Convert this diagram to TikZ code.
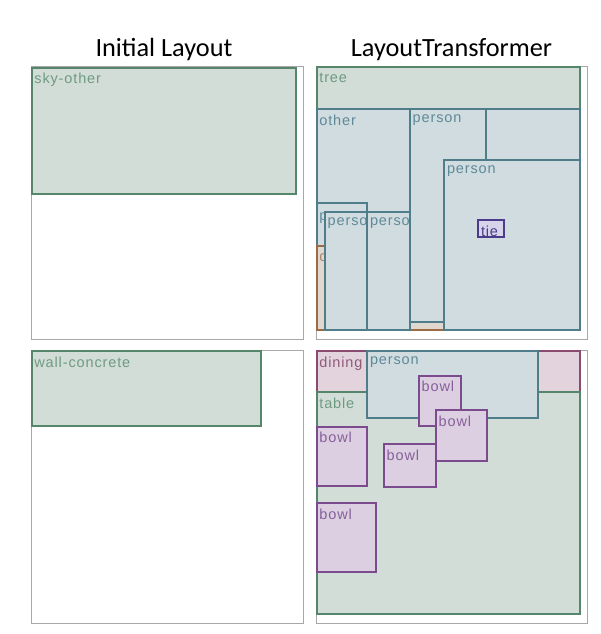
\documentclass[tikz,border=0pt]{standalone}
\usepackage{fontspec}
\setmainfont{Liberation Sans}
\newfontfamily\lblfont[LetterSpace=6]{Liberation Sans}
\newfontfamily\titlefont{Carlito}
\definecolor{gfill}{HTML}{D2DDD7}
\definecolor{gline}{HTML}{55866B}
\definecolor{gtext}{HTML}{6F9A82}
\definecolor{pfill}{HTML}{D0DCE0}
\definecolor{pline}{HTML}{4F7D8A}
\definecolor{ptext}{HTML}{5F8A98}
\definecolor{bfill}{HTML}{E0D7CF}
\definecolor{bline}{HTML}{9B6B45}
\definecolor{btext}{HTML}{A8846A}
\definecolor{ufill}{HTML}{DCCFE2}
\definecolor{uline}{HTML}{7B4B8D}
\definecolor{utext}{HTML}{86609A}
\definecolor{dfill}{HTML}{E2D3DD}
\definecolor{dline}{HTML}{8B4B71}
\definecolor{dtext}{HTML}{8F5A7A}
\definecolor{tfill}{HTML}{D6D3EA}
\definecolor{tline}{HTML}{4B3B8B}
\definecolor{ttext}{HTML}{4B3B8B}
\definecolor{frame}{HTML}{A8A8A8}
\tikzset{
  panelframe/.style={draw=frame, line width=1pt},
  grn/.style={fill=gfill, draw=gline, line width=1.8pt},
  grn lbl/.style={text=gtext},
  per/.style={fill=pfill, draw=pline, line width=1.8pt},
  per lbl/.style={text=ptext},
  brn/.style={fill=bfill, draw=bline, line width=1.8pt},
  brn lbl/.style={text=btext},
  bwl/.style={fill=ufill, draw=uline, line width=1.8pt},
  bwl lbl/.style={text=utext},
  din/.style={fill=dfill, draw=dline, line width=1.8pt},
  din lbl/.style={text=dtext},
  tie/.style={fill=tfill, draw=tline, line width=1.8pt},
  tie lbl/.style={text=ttext},
  lbl/.style={anchor=north west, inner xsep=2.5pt, inner ysep=5.5pt,
    font=\lblfont\fontsize{14.5}{15}\selectfont},
  ttl/.style={font=\titlefont\fontsize{26.3}{28}\selectfont, anchor=base}
}
\newcommand\lbox[7]{%
  \draw[#2] (#3,#4) rectangle (#5,#6);
  \begin{scope}
    \clip (#3,#4) rectangle (#5,#6);
    \node[lbl,#2 lbl] (#1) at (#3,#4) {#7};
  \end{scope}}
\begin{document}
\begin{tikzpicture}[x=1pt,y=-1pt]
\useasboundingbox (0,0) rectangle (600,634);
\fill[white] (0,0) rectangle (600,634);
% titles
\node[ttl] (t1) at (164,56.7) {Initial Layout};
\node[ttl] (t2) at (451.5,56.7) {LayoutTransformer};
% top-left panel
\draw[panelframe] (31,66.5) rectangle (303,339);
\lbox{sky}{grn}{31.7}{67.7}{296}{194}{sky-other}
% bottom-left panel
\draw[panelframe] (31,350.5) rectangle (303,623);
\lbox{wall}{grn}{31.7}{351}{260.7}{426}{wall-concrete}
% top-right panel
\draw[panelframe] (316,66.5) rectangle (587,339);
\lbox{tree}{grn}{316.7}{67.3}{580}{109.3}{tree}
\lbox{other}{per}{316.7}{109.3}{410}{330}{other}
\draw[per] (316.7,203.3) rectangle (367.3,245.7);
\begin{scope}
  \clip (316.7,203.3) rectangle (367.3,245.7);
  \node[lbl, per lbl, yshift=-4pt] (pA) at (316.7,203.3) {person};
\end{scope}
\lbox{cA}{brn}{316.7}{245.7}{444.3}{330}{chair}
\lbox{pB}{per}{410}{109.3}{580}{321.7}{person}
\lbox{pC}{per}{486}{109.3}{580}{160}{}
\lbox{pD}{per}{444.3}{160}{580}{330}{person}
\lbox{pE}{per}{325}{211.7}{367.3}{330}{person}
\lbox{pF}{per}{367.3}{211.7}{410}{330}{person}
\lbox{tieA}{tie}{478.3}{220}{504}{237.3}{tie}
% bottom-right panel
\draw[panelframe] (316,350.5) rectangle (587,623);
\lbox{dining}{din}{316.7}{351}{580}{392.3}{dining table}
\lbox{table}{grn}{316.7}{392.3}{580}{614.3}{table}
\lbox{pG}{per}{367.3}{351}{537.7}{417.7}{person}
\lbox{b1}{bwl}{419}{375.7}{461}{426}{bowl}
\lbox{b2}{bwl}{436}{410}{486.7}{460.7}{bowl}
\lbox{b3}{bwl}{384}{444}{435.7}{486.7}{bowl}
\lbox{b4}{bwl}{316.7}{426.7}{367.3}{486}{bowl}
\lbox{b5}{bwl}{316.7}{503.3}{376}{571.7}{bowl}
\end{tikzpicture}
\end{document}
